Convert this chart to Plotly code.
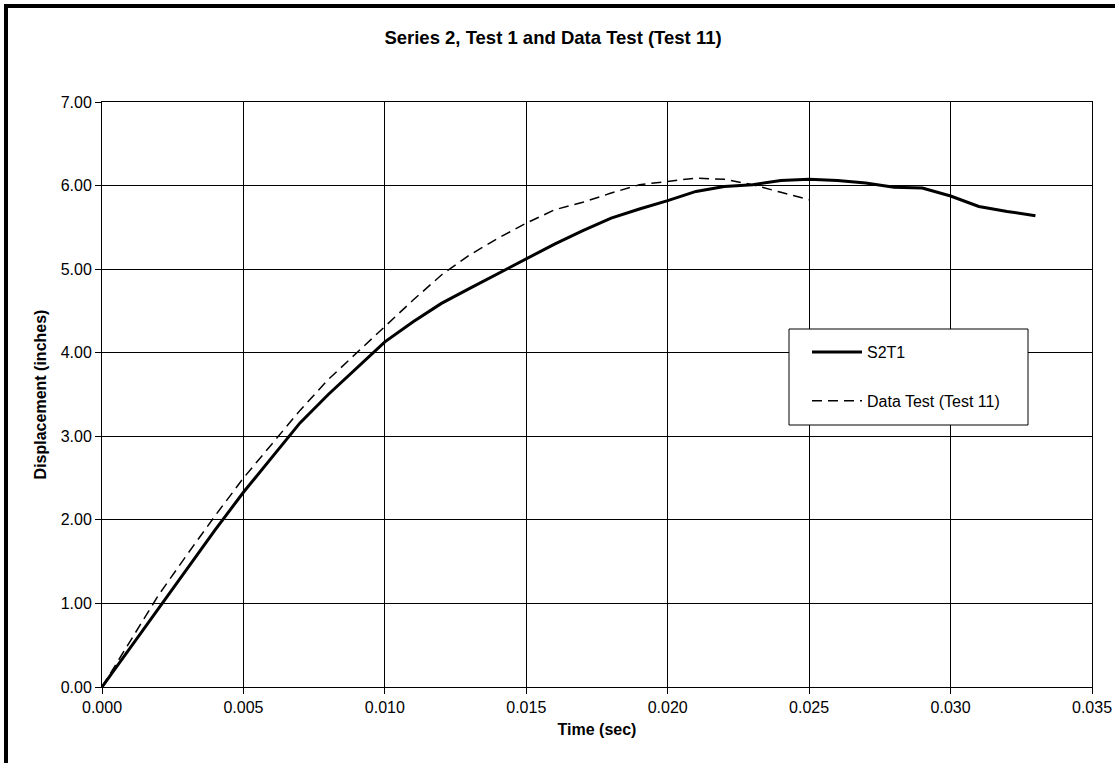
import plotly.graph_objects as go

# Time (sec)
time_s2t1 = [0.000, 0.001, 0.002, 0.003, 0.004, 0.005, 0.006, 0.007, 0.008, 0.009,
             0.010, 0.011, 0.012, 0.013, 0.014, 0.015, 0.016, 0.017, 0.018, 0.019,
             0.020, 0.021, 0.022, 0.023, 0.024, 0.025, 0.026, 0.027, 0.028, 0.029,
             0.030, 0.031, 0.032, 0.033]
disp_s2t1 = [0.00, 0.47, 0.94, 1.41, 1.88, 2.33, 2.75, 3.16, 3.50, 3.82,
             4.13, 4.37, 4.59, 4.77, 4.95, 5.13, 5.30, 5.46, 5.61, 5.72,
             5.82, 5.93, 5.99, 6.01, 6.06, 6.075, 6.06, 6.03, 5.98, 5.97,
             5.875, 5.75, 5.69, 5.64]

time_test11 = [0.000, 0.001, 0.002, 0.003, 0.004, 0.005, 0.006, 0.007, 0.008, 0.009,
               0.010, 0.011, 0.012, 0.013, 0.014, 0.015, 0.016, 0.017, 0.018, 0.019,
               0.020, 0.021, 0.022, 0.023, 0.024, 0.025]
disp_test11 = [0.00, 0.55, 1.10, 1.58, 2.05, 2.50, 2.90, 3.31, 3.68, 4.00,
               4.31, 4.63, 4.93, 5.17, 5.37, 5.55, 5.71, 5.80, 5.91, 6.01,
               6.05, 6.09, 6.075, 6.01, 5.92, 5.83]

x_ticks = [0.000, 0.005, 0.010, 0.015, 0.020, 0.025, 0.030, 0.035]
y_ticks = [0.0, 1.0, 2.0, 3.0, 4.0, 5.0, 6.0, 7.0]

FONT = "Arial, 'Liberation Sans', sans-serif"

fig = go.Figure()
fig.add_trace(go.Scatter(x=time_s2t1, y=disp_s2t1, mode="lines", name="S2T1",
                         legendgroup="a",
                         line=dict(color="black", width=3)))
fig.add_trace(go.Scatter(x=time_test11, y=disp_test11, mode="lines",
                         name="Data Test (Test 11)", legendgroup="b",
                         line=dict(color="black", width=1.5, dash="10px,6px")))

W, H = 1115, 763
L, R, T, B = 102, 23, 102, 76
pw, ph = W - L - R, H - T - B

def px_x(p):
    return (p - L) / pw

def px_y(p):
    return (H - B - p) / ph

fig.update_layout(
    width=W, height=H,
    margin=dict(l=L, r=R, t=T, b=B, autoexpand=False),
    paper_bgcolor="white", plot_bgcolor="white",
    font=dict(family=FONT, color="black", size=16),
    title=dict(text="<b>Series 2, Test 1 and Data Test (Test 11)</b>",
               x=553 / W, xanchor="center", xref="container",
               y=1 - 38 / H, yanchor="middle", yref="container",
               font=dict(size=18.5, family=FONT, color="black")),
    showlegend=True,
    legend=dict(x=px_x(807), y=px_y(335), xanchor="left", yanchor="top",
                bgcolor="rgba(0,0,0,0)", borderwidth=0,
                tracegroupgap=25, itemwidth=50,
                font=dict(size=16, family=FONT, color="black")),
    xaxis=dict(range=[0, 0.035], tickvals=x_ticks, tickformat=".3f",
               showgrid=True, gridcolor="black", gridwidth=1,
               showline=True, linecolor="black", linewidth=1, mirror=True,
               ticks="outside", ticklen=6, tickcolor="black", tickwidth=1,
               zeroline=False,
               title=dict(text="<b>Time (sec)</b>", standoff=8,
                          font=dict(size=16, family=FONT))),
    yaxis=dict(range=[0, 7], tickvals=y_ticks, tickformat=".2f",
               showgrid=True, gridcolor="black", gridwidth=1,
               showline=True, linecolor="black", linewidth=1, mirror=True,
               ticks="outside", ticklen=6, tickcolor="black", tickwidth=1,
               zeroline=False,
               title=dict(text="<b>Displacement (inches)</b>", standoff=10,
                          font=dict(size=16, family=FONT))),
    shapes=[
        dict(type="rect", xref="paper", yref="paper",
             x0=px_x(6), x1=px_x(W + 20), y0=px_y(H + 20), y1=px_y(6),
             line=dict(color="black", width=4), fillcolor="rgba(0,0,0,0)",
             layer="above"),
        dict(type="rect", xref="paper", yref="paper",
             x0=px_x(789), x1=px_x(1028), y0=px_y(425), y1=px_y(329),
             line=dict(color="black", width=1), fillcolor="white",
             layer="above"),
    ],
)

fig.write_html("out.html",
               config={"displayModeBar": False},
               post_script="document.body.style.margin='0';"
                           "document.body.style.overflow='hidden';")
